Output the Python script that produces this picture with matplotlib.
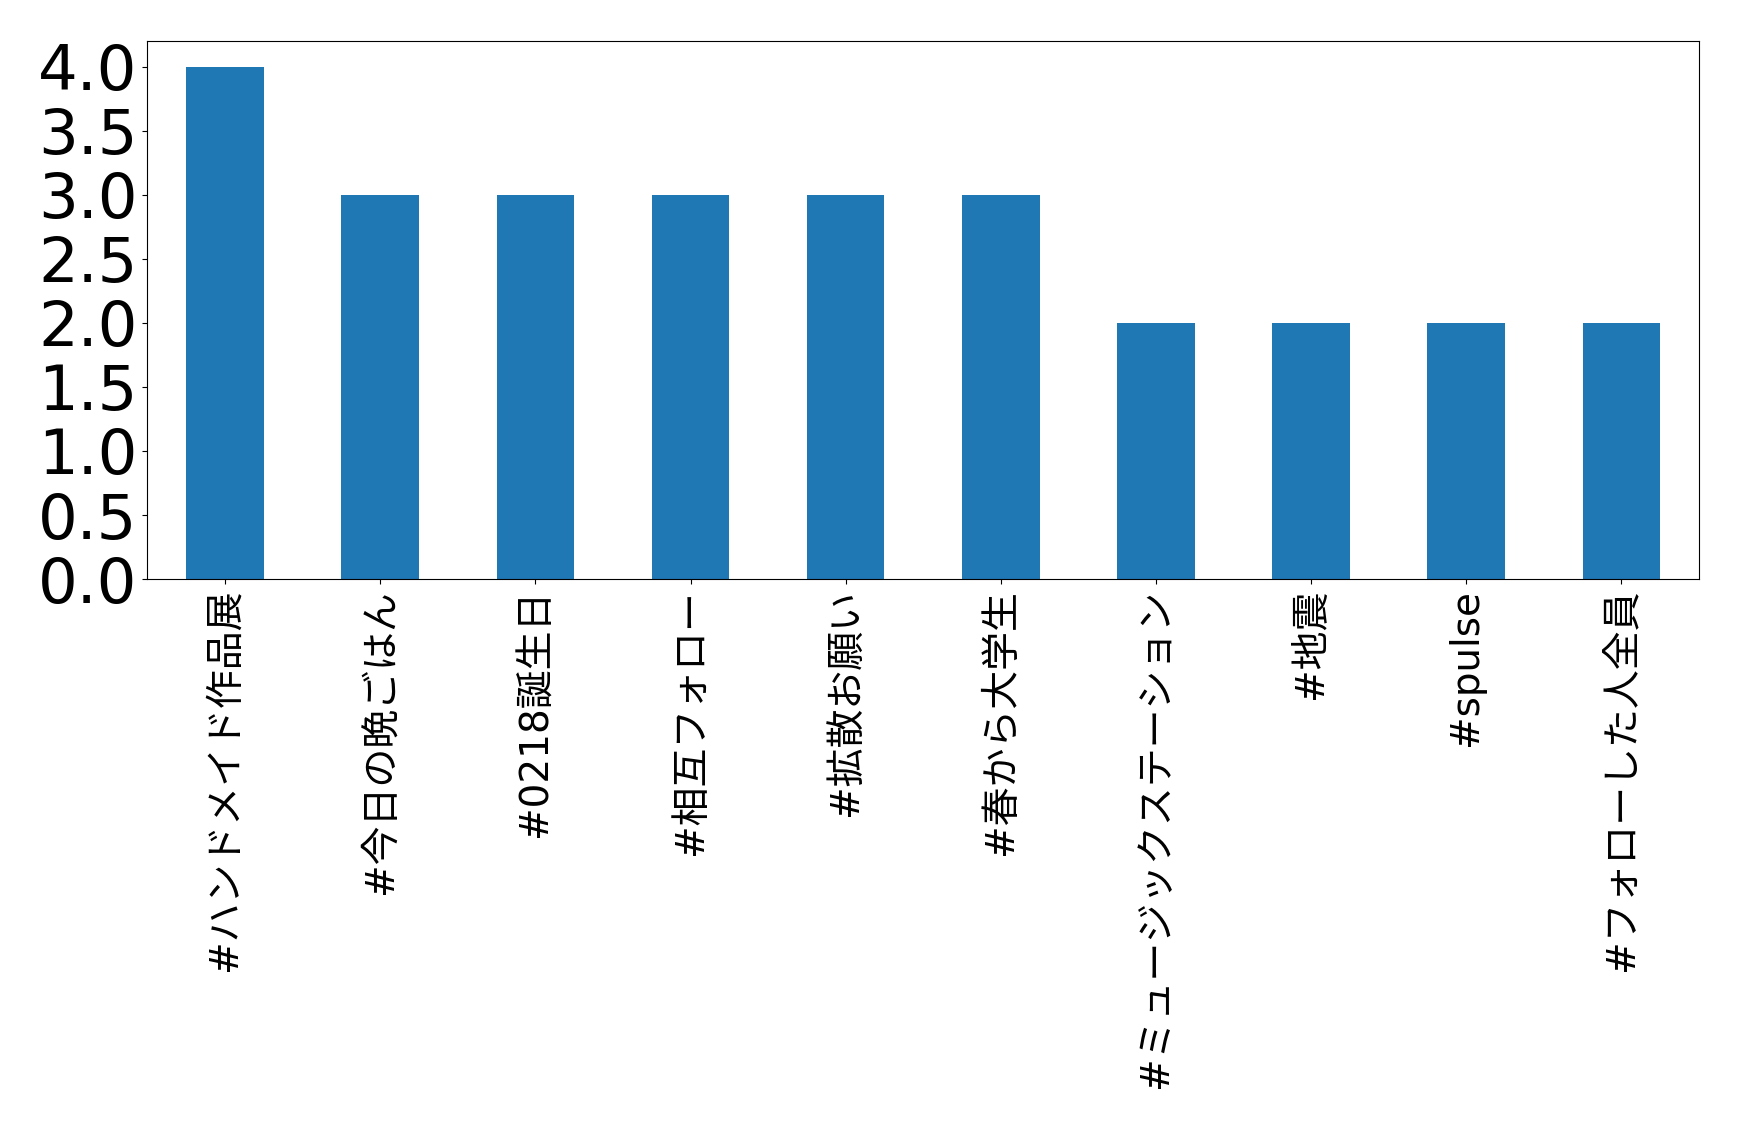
import matplotlib
matplotlib.use("Agg")
import matplotlib.pyplot as plt

# hashtag counts
tags = ["#ハンドメイド作品展", "#今日の晩ごはん", "#0218誕生日", "#相互フォロー",
        "#拡散お願い", "#春から大学生", "#ミュージックステーション", "#地震",
        "#spulse", "#フォローした人全員"]
counts = [4, 3, 3, 3, 3, 3, 2, 2, 2, 2]
yticks = [0.0, 0.5, 1.0, 1.5, 2.0, 2.5, 3.0, 3.5, 4.0]

plt.rcParams['font.family'] = ['DejaVu Sans', 'Noto Sans CJK JP']

fig = plt.figure(figsize=(17.39, 11.31), dpi=100)
ax = fig.add_axes([0.0848, 0.488, 0.8922, 0.4757])
xs = range(len(tags))
ax.bar(xs, counts, width=0.5, color='#1f77b4')
ax.set_xlim(-0.5, len(tags) - 0.5)
ax.set_ylim(0, 4.2)
ax.set_yticks(yticks)
ax.set_yticklabels([f"{v:.1f}" for v in yticks])
ax.set_xticks(list(xs))
ax.set_xticklabels(tags, rotation=90, fontsize=28)
ax.tick_params(axis='y', labelsize=45)

fig.savefig("out.png", dpi=100)
